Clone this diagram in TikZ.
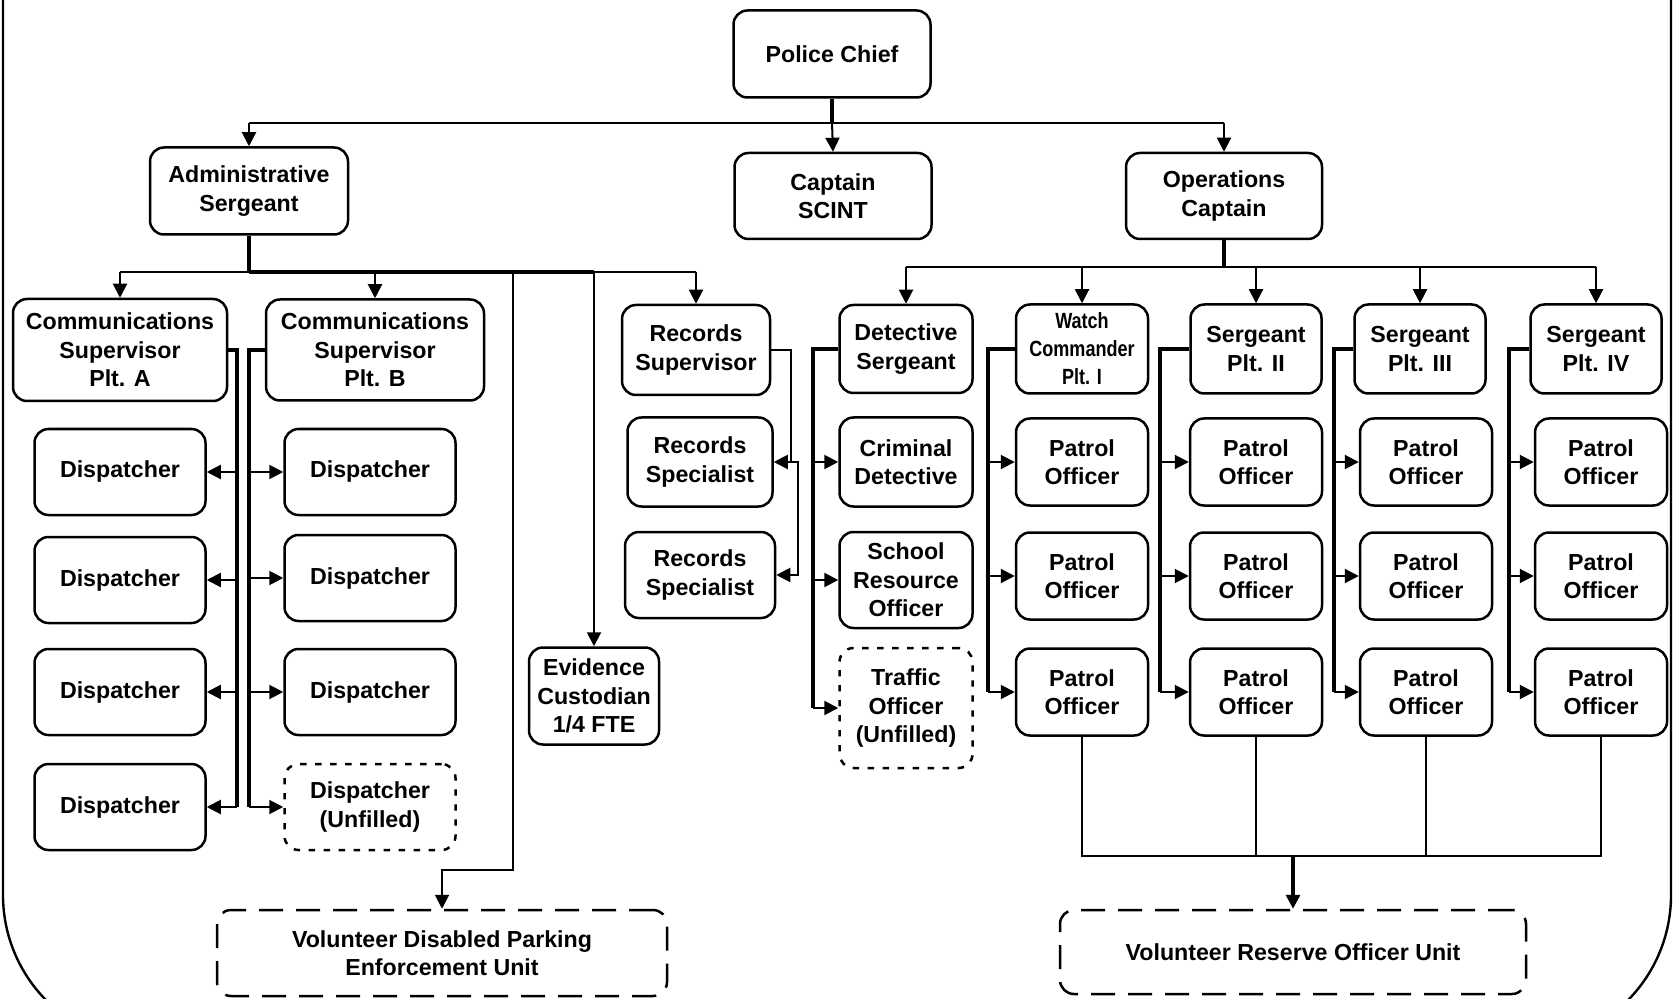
\documentclass[tikz,border=0pt]{standalone}
\usepackage{fontspec}
\setmainfont{Liberation Sans}
\newfontfamily\narrowfont[FakeStretch=0.82]{Liberation Sans}
\usetikzlibrary{arrows.meta}

\begin{document}
\begin{tikzpicture}[x=0.5pt, y=-0.5pt,
  box/.style={draw, line width=1.25pt, rounded corners=7pt, align=center, inner sep=0pt,
    font=\bfseries\fontsize{11.6}{14.2}\selectfont},
  vacant/.style={box, dash pattern=on 3.2pt off 4.3pt},
  volunteer/.style={box, dash pattern=on 12pt off 6.5pt},
  link/.style={line width=1pt},
  bus/.style={line width=1.6pt},
  arr/.style={line width=1pt, -{Triangle[length=7pt, width=7pt]}}]

% Define page and outer frame
\useasboundingbox (0,0) rectangle (1673,999);
\clip (0,0) rectangle (1673,999);
\draw[line width=1.2pt, rounded corners=75pt] (3,-300) rectangle (1671,1045);

% Define bend points of the branch lines
\coordinate (cbar) at (832,123);
\coordinate (abar) at (249,272);
\coordinate (obar) at (1224,267);
\coordinate (busA) at (237,807);
\coordinate (busB) at (249,807);
\coordinate (rbus) at (791,462);
\coordinate (dbus) at (813,708);
\coordinate (wbus) at (988,692);
\coordinate (bus2) at (1160,692);
\coordinate (bus3) at (1334,692);
\coordinate (bus4) at (1509,692);
\coordinate (vbend) at (513,870);
\coordinate (pbar) at (1293,856);

% Top levels
\node[box, minimum width=98.5pt, minimum height=43.5pt] (chief) at (832,54) {Police Chief};
\node[box, minimum width=99pt, minimum height=43.5pt] (admin) at (249,191) {Administrative\\Sergeant};
\node[box, minimum width=98.5pt, minimum height=43pt] (scint) at (833,196) {Captain\\SCINT};
\node[box, minimum width=98pt, minimum height=43pt] (ops) at (1224,196) {Operations\\Captain};

% Administrative side
\node[box, minimum width=107pt, minimum height=51pt] (comA) at (120,350) {Communications\\Supervisor\\Plt. A};
\node[box, minimum width=109pt, minimum height=50.5pt] (comB) at (375,350) {Communications\\Supervisor\\Plt. B};
\node[box, minimum width=85.5pt, minimum height=43pt] (dA1) at (120,472) {Dispatcher};
\node[box, minimum width=85.5pt, minimum height=43pt] (dA2) at (120,580) {Dispatcher};
\node[box, minimum width=85.5pt, minimum height=43pt] (dA3) at (120,692) {Dispatcher};
\node[box, minimum width=85.5pt, minimum height=43pt] (dA4) at (120,807) {Dispatcher};
\node[box, minimum width=85.5pt, minimum height=43pt] (dB1) at (370,472) {Dispatcher};
\node[box, minimum width=85.5pt, minimum height=43pt] (dB2) at (370,578) {Dispatcher};
\node[box, minimum width=85.5pt, minimum height=43pt] (dB3) at (370,692) {Dispatcher};
\node[vacant, minimum width=85.5pt, minimum height=43pt] (dB4) at (370,807) {Dispatcher\\(Unfilled)};
\node[box, minimum width=65pt, minimum height=48.5pt] (evid) at (594,696) {Evidence\\Custodian\\1/4 FTE};
\node[box, minimum width=74pt, minimum height=45pt] (rsup) at (696,350) {Records\\Supervisor};
\node[box, minimum width=72.5pt, minimum height=44.5pt] (rs1) at (700,462) {Records\\Specialist};
\node[box, minimum width=75pt, minimum height=43pt] (rs2) at (700,575) {Records\\Specialist};
\node[volunteer, minimum width=225pt, minimum height=43pt] (vdp) at (442,953) {Volunteer Disabled Parking\\Enforcement Unit};

% Operations side
\node[box, minimum width=66.5pt, minimum height=44pt] (det) at (906,349) {Detective\\Sergeant};
\node[box, minimum width=66.5pt, minimum height=44.5pt] (crim) at (906,462) {Criminal\\Detective};
\node[box, minimum width=66.5pt, minimum height=48pt] (sro) at (906,580) {School\\Resource\\Officer};
\node[vacant, minimum width=66.5pt, minimum height=60pt] (traf) at (906,708) {Traffic\\Officer\\(Unfilled)};
\node[box, minimum width=66pt, minimum height=44.5pt, font=\narrowfont\bfseries\fontsize{11}{14}\selectfont] (watch) at (1082,349) {Watch\\Commander\\Plt. I};
\node[box, minimum width=65.5pt, minimum height=44.5pt] (sg2) at (1256,349) {Sergeant\\Plt. II};
\node[box, minimum width=65.5pt, minimum height=44.5pt] (sg3) at (1420,349) {Sergeant\\Plt. III};
\node[box, minimum width=65.5pt, minimum height=44.5pt] (sg4) at (1596,349) {Sergeant\\Plt. IV};
\node[box, minimum width=66pt, minimum height=43.5pt] (p11) at (1082,462) {Patrol\\Officer};
\node[box, minimum width=66pt, minimum height=43.5pt] (p12) at (1082,576) {Patrol\\Officer};
\node[box, minimum width=66pt, minimum height=43.5pt] (p13) at (1082,692) {Patrol\\Officer};
\node[box, minimum width=66pt, minimum height=43.5pt] (p21) at (1256,462) {Patrol\\Officer};
\node[box, minimum width=66pt, minimum height=43.5pt] (p22) at (1256,576) {Patrol\\Officer};
\node[box, minimum width=66pt, minimum height=43.5pt] (p23) at (1256,692) {Patrol\\Officer};
\node[box, minimum width=66pt, minimum height=43.5pt] (p31) at (1426,462) {Patrol\\Officer};
\node[box, minimum width=66pt, minimum height=43.5pt] (p32) at (1426,576) {Patrol\\Officer};
\node[box, minimum width=66pt, minimum height=43.5pt] (p33) at (1426,692) {Patrol\\Officer};
\node[box, minimum width=66pt, minimum height=43.5pt] (p41) at (1601,462) {Patrol\\Officer};
\node[box, minimum width=66pt, minimum height=43.5pt] (p42) at (1601,576) {Patrol\\Officer};
\node[box, minimum width=66pt, minimum height=43.5pt] (p43) at (1601,692) {Patrol\\Officer};
\node[volunteer, minimum width=233pt, minimum height=42pt] (vro) at (1293,952) {Volunteer Reserve Officer Unit};

% Chief branch
\draw[bus] (chief.south) -- (cbar);
\draw[link] (admin |- cbar) -- (ops |- cbar);
\draw[arr] (cbar) -- (scint.north);
\draw[arr] (admin |- cbar) -- (admin.north);
\draw[arr] (ops |- cbar) -- (ops.north);

% Administrative branch
\draw[bus] (admin.south) -- (abar);
\draw[link] (comA |- abar) -- (rsup |- abar);
\draw[bus] (abar) -- (evid |- abar);
\draw[arr] (comA |- abar) -- (comA.north);
\draw[arr] (comB |- abar) -- (comB.north);
\draw[arr] (rsup |- abar) -- (rsup.north);
\draw[arr] (evid |- abar) -- (evid.north);
\draw[arr] (vbend |- abar) -- (vbend) -| (vdp.north);

% Dispatchers
\draw[bus] (comA.east) -| (busA);
\draw[arr] (busA |- dA1) -- (dA1.east);
\draw[arr] (busA |- dA2) -- (dA2.east);
\draw[arr] (busA |- dA3) -- (dA3.east);
\draw[arr] (busA |- dA4) -- (dA4.east);
\draw[bus] (comB.west) -| (busB);
\draw[arr] (busB |- dB1) -- (dB1.west);
\draw[arr] (busB |- dB2) -- (dB2.west);
\draw[arr] (busB |- dB3) -- (dB3.west);
\draw[arr] (busB |- dB4) -- (dB4.west);

% Records
\draw[link] (rsup.east) -| (rbus);
\draw[arr] (rbus) -- (rs1.east);
\draw[arr] (rbus) -- ++(7,0) |- (rs2.east);

% Operations branch
\draw[bus] (ops.south) -- (obar);
\draw[link] (det |- obar) -- (sg4 |- obar);
\draw[arr] (det |- obar) -- (det.north);
\draw[arr] (watch |- obar) -- (watch.north);
\draw[arr] (sg2 |- obar) -- (sg2.north);
\draw[arr] (sg3 |- obar) -- (sg3.north);
\draw[arr] (sg4 |- obar) -- (sg4.north);

% Detectives
\draw[bus] (det.west) -| (dbus);
\draw[arr] (dbus |- crim) -- (crim.west);
\draw[arr] (dbus |- sro) -- (sro.west);
\draw[arr] (dbus |- traf) -- (traf.west);

% Platoons
\draw[bus] (watch.west) -| (wbus);
\draw[arr] (wbus |- p11) -- (p11.west);
\draw[arr] (wbus |- p12) -- (p12.west);
\draw[arr] (wbus |- p13) -- (p13.west);
\draw[bus] (sg2.west) -| (bus2);
\draw[arr] (bus2 |- p21) -- (p21.west);
\draw[arr] (bus2 |- p22) -- (p22.west);
\draw[arr] (bus2 |- p23) -- (p23.west);
\draw[bus] (sg3.west) -| (bus3);
\draw[arr] (bus3 |- p31) -- (p31.west);
\draw[arr] (bus3 |- p32) -- (p32.west);
\draw[arr] (bus3 |- p33) -- (p33.west);
\draw[bus] (sg4.west) -| (bus4);
\draw[arr] (bus4 |- p41) -- (p41.west);
\draw[arr] (bus4 |- p42) -- (p42.west);
\draw[arr] (bus4 |- p43) -- (p43.west);

% Reserve unit
\draw[link] (p13.south) -- (p13 |- pbar) -- (p43 |- pbar) -- (p43.south);
\draw[link] (p23.south) -- (p23 |- pbar);
\draw[link] (p33.south) -- (p33 |- pbar);
\draw[bus, -{Triangle[length=7pt, width=7pt]}] (pbar) -- (vro.north);

\end{tikzpicture}
\end{document}
